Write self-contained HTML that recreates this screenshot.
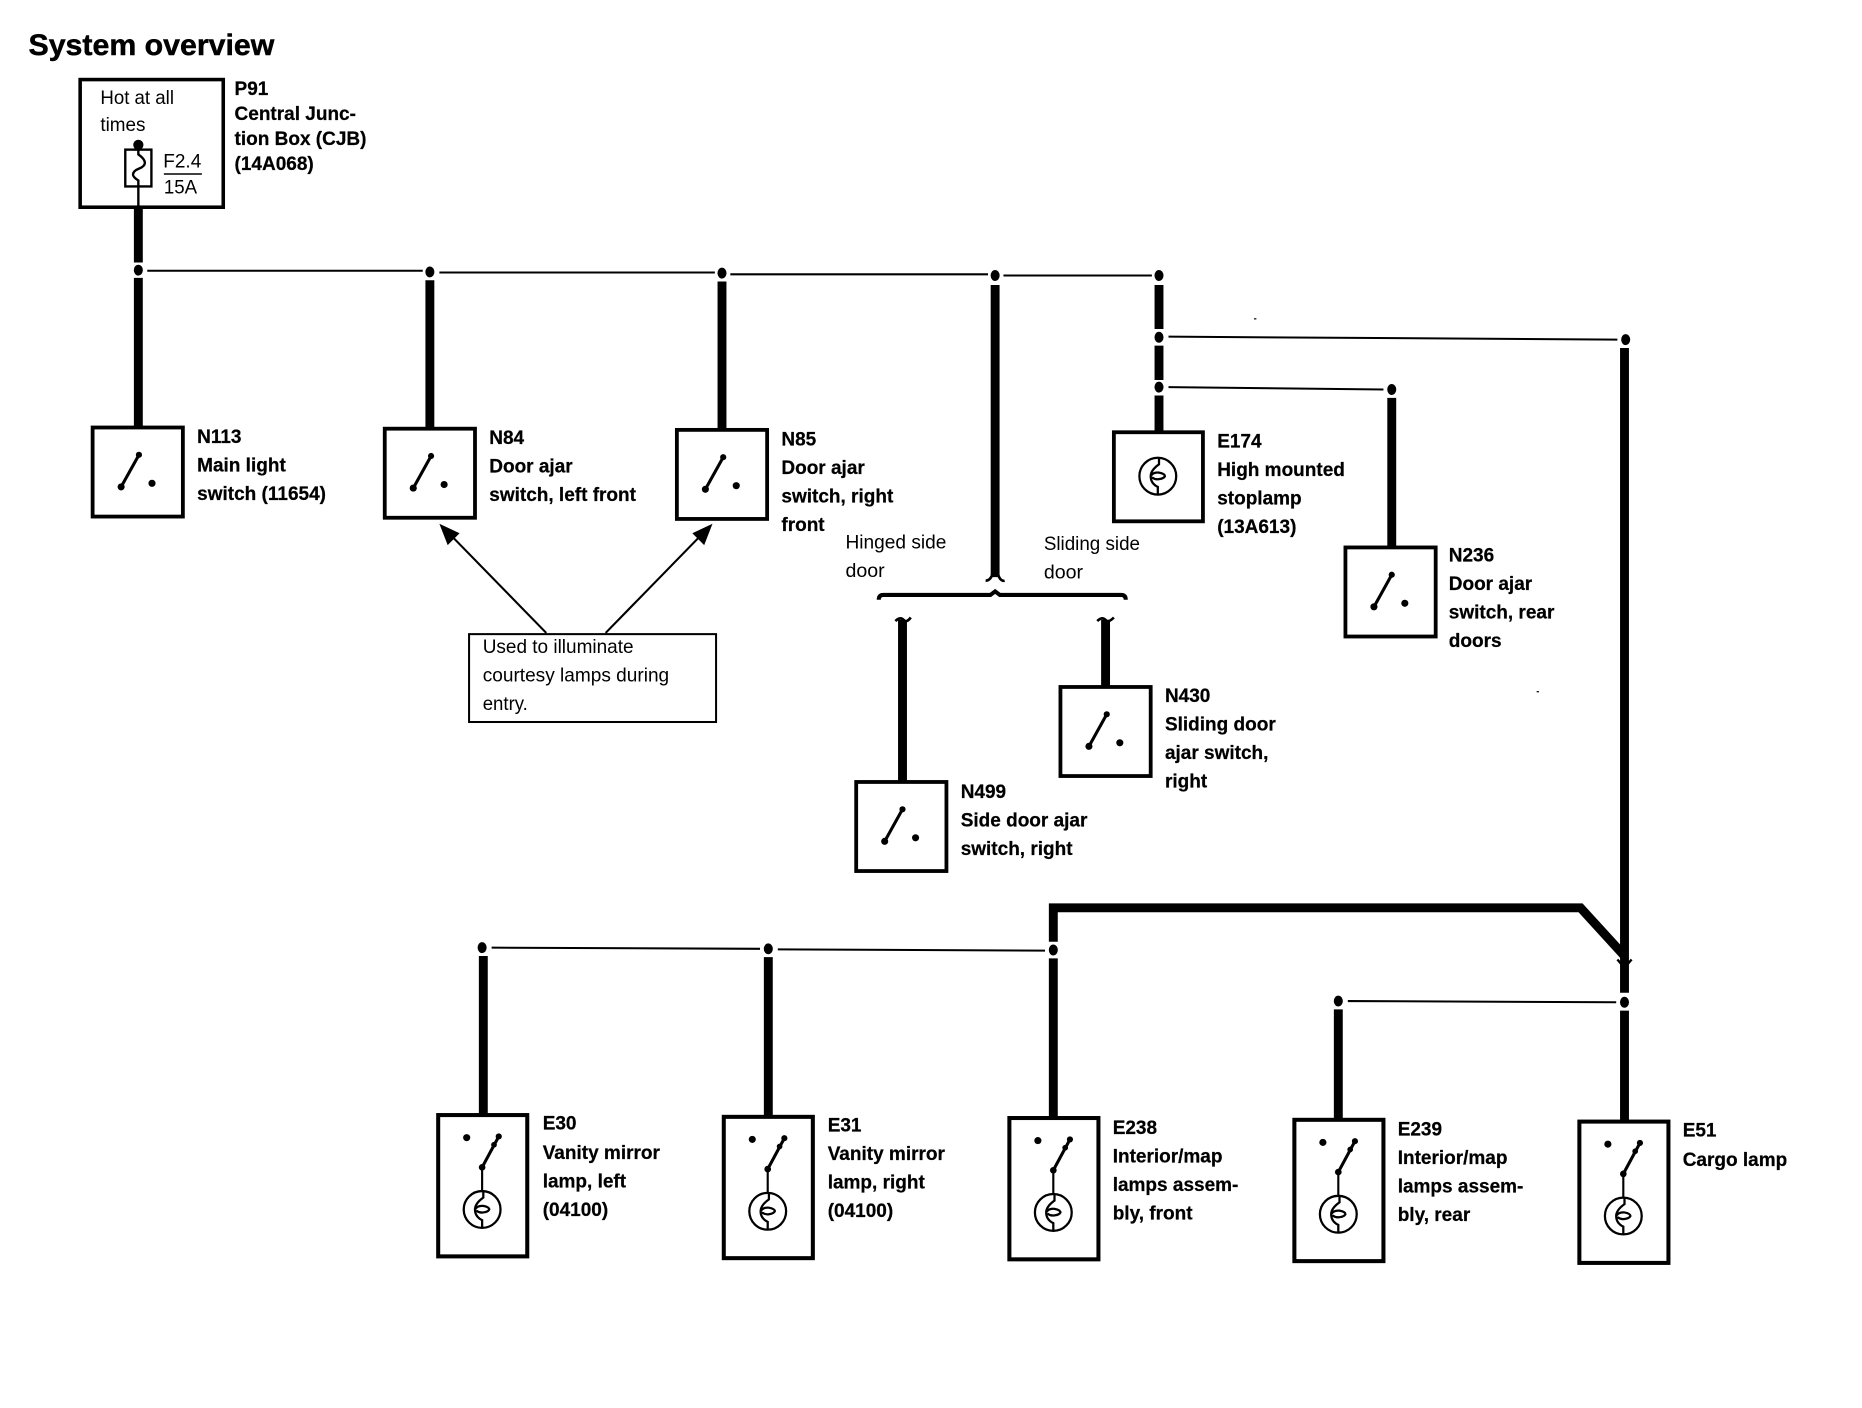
<!DOCTYPE html>
<html><head><meta charset="utf-8"><style>
html,body{margin:0;padding:0;background:#fff;width:1862px;height:1408px;overflow:hidden}
svg{display:block}
text{font-family:"Liberation Sans",sans-serif;fill:#000}
.b{font-weight:bold;font-size:16px;stroke:#000;stroke-width:.2}
.r{font-size:16.5px}
</style></head><body>
<svg xmlns="http://www.w3.org/2000/svg" width="1862" height="1408" viewBox="0 0 1568 1185.68">
<defs>
<g id="sw"><rect x="0" y="0" width="76" height="75" fill="#fff" stroke="#000" stroke-width="3.2"/>
<path d="M24 50L39 23" stroke="#000" stroke-width="2.6" fill="none"/><circle cx="24" cy="50" r="3"/><circle cx="39" cy="23" r="2.6"/><circle cx="50" cy="47" r="3"/></g>
<g id="lp"><circle cx="0" cy="0" r="15.5" fill="#fff" stroke="#000" stroke-width="1.9"/>
<path d="M1 -15.5V-10Q-6 -5 -6 0Q-6 6 0 9V15.5M-6 0Q-4 -3.5 1 -3Q6 -2 6 0Q5 2 1 2.5Q-2 3 -5 1" fill="none" stroke="#000" stroke-width="1.9"/></g>
<g id="bx"><rect x="0" y="0" width="75" height="119" fill="#fff" stroke="#000" stroke-width="3.4"/>
<circle cx="24" cy="19" r="3"/><path d="M37 44L51 18" stroke="#000" stroke-width="2.6"/><circle cx="37" cy="44" r="2.8"/><circle cx="47" cy="25" r="2.4"/><circle cx="51" cy="18" r="2.6"/>
<path d="M37 44V64" stroke="#000" stroke-width="1.8"/><use href="#lp" x="37" y="79.500"/></g>
<g id="dt"><ellipse cx="0" cy="0" rx="3.8" ry="4.6"/></g>
</defs>

<text x="24" y="46.500" font-size="25" font-weight="bold" textLength="207" lengthAdjust="spacingAndGlyphs" stroke="#000" stroke-width=".4">System overview</text>

<!-- P91 -->
<rect x="67.500" y="67" width="120.500" height="107.500" fill="none" stroke="#000" stroke-width="3"/>
<text class="r" x="84.500" y="87.500" textLength="62" lengthAdjust="spacingAndGlyphs">Hot at all</text>
<text class="r" x="84.500" y="110.500" textLength="38" lengthAdjust="spacingAndGlyphs">times</text>
<rect x="105.500" y="126" width="22" height="31" fill="none" stroke="#000" stroke-width="2"/>
<path d="M116.500 122V130Q122 134 122 137Q122 140 117 142Q112 144 112 147Q112 149 116.500 152V175" fill="none" stroke="#000" stroke-width="2"/>
<circle cx="116.500" cy="122" r="4.300"/>
<text class="r" x="137.500" y="141" textLength="32" lengthAdjust="spacingAndGlyphs">F2.4</text>
<path d="M138 146.500H170" stroke="#000" stroke-width="1.300"/>
<text class="r" x="138" y="163" textLength="28" lengthAdjust="spacingAndGlyphs">15A</text>
<text class="b" x="197.500" y="80">P91</text>
<text class="b" x="197.500" y="101">Central Junc-</text>
<text class="b" x="197.500" y="122">tion Box (CJB)</text>
<text class="b" x="197.500" y="143">(14A068)</text>

<!-- thick wires -->
<g fill="none" stroke="#000" stroke-width="7.500">
<path d="M116.500 175V221"/><path d="M116.500 234V360"/>
<path d="M362 236V361"/><path d="M608 237V362"/>
<path d="M838 240V486"/>
<path d="M976 240V277"/><path d="M976 291V320"/><path d="M976 333V364"/>
<path d="M1172 335V461"/>
<path d="M1368 293V836"/><path d="M1368 851V945"/>
<path d="M760 522V658"/><path d="M931 522V578"/>
<path d="M407 805V939"/><path d="M647 806V940"/><path d="M887 807V941"/>
<path d="M887 793V764.500H1331L1368 805"/>
<path d="M1127 850V943"/>
</g>
<!-- thin wires -->
<g fill="none" stroke="#000" stroke-width="1.700">
<path d="M124 228H356"/><path d="M370 229.500H602"/><path d="M615 231H832"/><path d="M845 232H970"/>
<path d="M984 283.500L1362 286"/><path d="M984 326L1165 328"/>
<path d="M414 798L640 799"/><path d="M655 799.500L880 800.500"/>
<path d="M1135 843L1361 844"/>
</g>
<!-- dots -->
<use href="#dt" x="116.500" y="227.500"/><use href="#dt" x="362" y="229"/><use href="#dt" x="608" y="230"/><use href="#dt" x="838" y="232"/><use href="#dt" x="976" y="232"/>
<use href="#dt" x="976" y="284"/><use href="#dt" x="976" y="326"/><use href="#dt" x="1369" y="286"/><use href="#dt" x="1172" y="328"/>
<use href="#dt" x="406" y="798"/><use href="#dt" x="647" y="799"/><use href="#dt" x="887" y="800"/><use href="#dt" x="1127" y="843"/><use href="#dt" x="1368" y="844"/>

<!-- barbs -->
<path d="M1362 808L1368 815L1374 808" fill="none" stroke="#000" stroke-width="2"/>
<path d="M830 489Q834 489 836 483M846 489Q842 490 840 482" fill="none" stroke="#000" stroke-width="2.200"/>
<path d="M754 523Q758 519 761 522Q763 525 767 520M924 523Q928 519 931 522Q933 525 938 520" fill="none" stroke="#000" stroke-width="2.200"/>
<!-- brace -->
<path d="M740 505Q740 501 744 501H834L838 498L842 501H944Q948 501 948 505" fill="none" stroke="#000" stroke-width="3.400"/>

<!-- switches -->
<use href="#sw" x="78" y="360"/><use href="#sw" x="324" y="361"/><use href="#sw" x="570" y="362"/>
<use href="#sw" x="1133" y="461"/><use href="#sw" x="893" y="578.500"/><use href="#sw" x="721" y="658.500"/>
<!-- E174 -->
<rect x="938" y="364" width="75" height="75" fill="#fff" stroke="#000" stroke-width="3.200"/>
<use href="#lp" x="975" y="401"/>
<!-- lamp boxes -->
<use href="#bx" x="369" y="939"/><use href="#bx" x="609.500" y="940.500"/><use href="#bx" x="850" y="941.500"/><use href="#bx" x="1090" y="943"/><use href="#bx" x="1330" y="944.500"/>

<!-- callout -->
<rect x="395" y="534" width="208" height="74" fill="#fff" stroke="#000" stroke-width="1.700"/>
<text class="r" x="406.500" y="550" textLength="127" lengthAdjust="spacingAndGlyphs">Used to illuminate</text>
<text class="r" x="406.500" y="574" textLength="157" lengthAdjust="spacingAndGlyphs">courtesy lamps during</text>
<text class="r" x="406.500" y="598" textLength="38" lengthAdjust="spacingAndGlyphs">entry.</text>
<path d="M460 533L378 449M510 533L592 449" stroke="#000" stroke-width="1.800" fill="none"/>
<path d="M370 441L387 449L377 459Z"/><path d="M600 441L593 459L583 449Z"/>

<!-- region labels -->
<text class="r" x="712" y="462" textLength="85" lengthAdjust="spacingAndGlyphs">Hinged side</text>
<text class="r" x="712" y="486" textLength="33" lengthAdjust="spacingAndGlyphs">door</text>
<text class="r" x="879" y="463" textLength="81" lengthAdjust="spacingAndGlyphs">Sliding side</text>
<text class="r" x="879" y="487" textLength="33" lengthAdjust="spacingAndGlyphs">door</text>

<!-- part labels -->
<text class="b" x="166" y="373">N113</text><text class="b" x="166" y="397">Main light</text><text class="b" x="166" y="421">switch (11654)</text>
<text class="b" x="412" y="374">N84</text><text class="b" x="412" y="398">Door ajar</text><text class="b" x="412" y="422">switch, left front</text>
<text class="b" x="658" y="375">N85</text><text class="b" x="658" y="399">Door ajar</text><text class="b" x="658" y="423">switch, right</text><text class="b" x="658" y="447">front</text>
<text class="b" x="1025" y="377">E174</text><text class="b" x="1025" y="401">High mounted</text><text class="b" x="1025" y="425">stoplamp</text><text class="b" x="1025" y="449">(13A613)</text>
<text class="b" x="1220" y="473">N236</text><text class="b" x="1220" y="497">Door ajar</text><text class="b" x="1220" y="521">switch, rear</text><text class="b" x="1220" y="545">doors</text>
<text class="b" x="981" y="591">N430</text><text class="b" x="981" y="615">Sliding door</text><text class="b" x="981" y="639">ajar switch,</text><text class="b" x="981" y="663">right</text>
<text class="b" x="809" y="672">N499</text><text class="b" x="809" y="696">Side door ajar</text><text class="b" x="809" y="720">switch, right</text>
<text class="b" x="457" y="951">E30</text><text class="b" x="457" y="976">Vanity mirror</text><text class="b" x="457" y="1000">lamp, left</text><text class="b" x="457" y="1024">(04100)</text>
<text class="b" x="697" y="953">E31</text><text class="b" x="697" y="977">Vanity mirror</text><text class="b" x="697" y="1001">lamp, right</text><text class="b" x="697" y="1025">(04100)</text>
<text class="b" x="937" y="955">E238</text><text class="b" x="937" y="979">Interior/map</text><text class="b" x="937" y="1003">lamps assem-</text><text class="b" x="937" y="1027">bly, front</text>
<text class="b" x="1177" y="956">E239</text><text class="b" x="1177" y="980">Interior/map</text><text class="b" x="1177" y="1004">lamps assem-</text><text class="b" x="1177" y="1028">bly, rear</text>
<text class="b" x="1417" y="957">E51</text><text class="b" x="1417" y="982">Cargo lamp</text>
<!-- specks -->
<rect x="1056" y="268" width="2" height="1"/><rect x="1294" y="582" width="2" height="1"/>
</svg>
</body></html>
